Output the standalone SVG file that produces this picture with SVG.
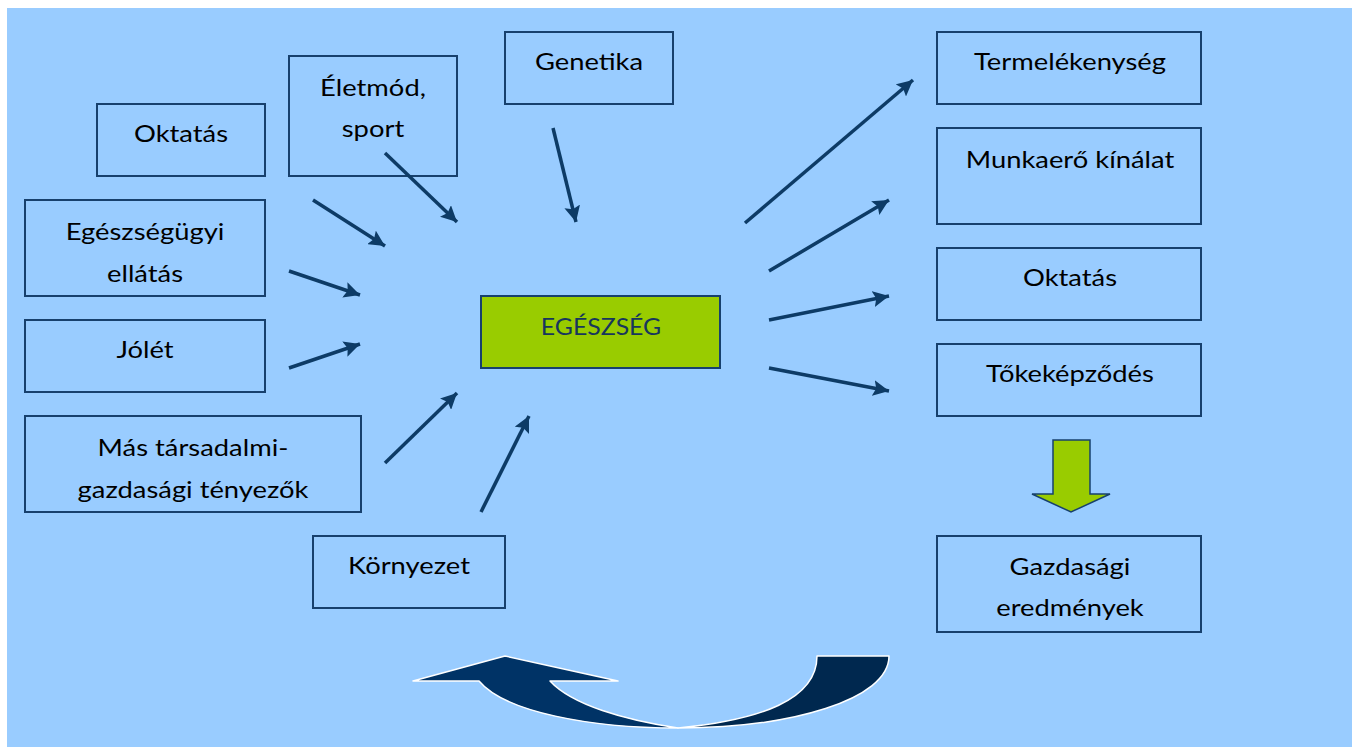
<svg xmlns="http://www.w3.org/2000/svg" width="1357" height="747" viewBox="0 0 1357 747">
<style>
.box{fill:none;stroke:#17406d;stroke-width:2}
.t{font-family:Lato,"Open Sans",sans-serif;font-size:23px;fill:#000;text-anchor:middle}
.c{stroke:#0d3b66;stroke-width:3.5;fill:none;marker-end:url(#ah)}
</style>
<defs>
<marker id="ah" markerUnits="userSpaceOnUse" markerWidth="18" markerHeight="16" refX="16" refY="8" orient="auto">
<path d="M0,0 L16,8 L0,16 L3,8 Z" fill="#0d3b66"/>
</marker>
</defs>
<rect x="0" y="0" width="1357" height="747" fill="#fff"/>
<rect x="7" y="8" width="1345" height="739" fill="#99ccff"/>

<g id="genetika"><rect class="box" x="505" y="32" width="168" height="72"/><text class="t" transform="translate(589,70) scale(1.19,1)">Genetika</text></g>
<g id="eletmod"><rect class="box" x="289" y="56" width="168" height="120"/><text class="t" transform="translate(373,96) scale(1.19,1)">Életmód,</text><text class="t" transform="translate(373,137) scale(1.19,1)">sport</text></g>
<g id="oktatas-l"><rect class="box" x="97" y="104" width="168" height="72"/><text class="t" transform="translate(181,142) scale(1.19,1)">Oktatás</text></g>
<g id="egeszsegugyi"><rect class="box" x="25" y="200" width="240" height="96"/><text class="t" transform="translate(145,240) scale(1.19,1)">Egészségügyi</text><text class="t" transform="translate(145,282) scale(1.19,1)">ellátás</text></g>
<g id="jolet"><rect class="box" x="25" y="320" width="240" height="72"/><text class="t" transform="translate(145,358) scale(1.19,1)">Jólét</text></g>
<g id="egeszseg"><rect x="481" y="296" width="239" height="72" fill="#99cc00" stroke="#17406d" stroke-width="2"/><text class="t" transform="translate(601,335) scale(1.08,1)" style="fill:#17365d;font-size:23px">EGÉSZSÉG</text></g>
<g id="mas"><rect class="box" x="25" y="416" width="336" height="96"/><text class="t" transform="translate(193,456) scale(1.19,1)">Más társadalmi-</text><text class="t" transform="translate(193,498) scale(1.19,1)">gazdasági tényezők</text></g>
<g id="kornyezet"><rect class="box" x="313" y="536" width="192" height="72"/><text class="t" transform="translate(409,574) scale(1.19,1)">Környezet</text></g>
<g id="termelekenyseg"><rect class="box" x="937" y="32" width="264" height="72"/><text class="t" transform="translate(1070,70) scale(1.19,1)">Termelékenység</text></g>
<g id="munkaero"><rect class="box" x="937" y="128" width="264" height="96"/><text class="t" transform="translate(1070,168) scale(1.19,1)">Munkaerő kínálat</text></g>
<g id="oktatas-r"><rect class="box" x="937" y="248" width="264" height="72"/><text class="t" transform="translate(1070,286) scale(1.19,1)">Oktatás</text></g>
<g id="tokekepzodes"><rect class="box" x="937" y="344" width="264" height="72"/><text class="t" transform="translate(1070,382) scale(1.19,1)">Tőkeképződés</text></g>
<g id="gazdasagi"><rect class="box" x="937" y="536" width="264" height="96"/><text class="t" transform="translate(1070,575) scale(1.19,1)">Gazdasági</text><text class="t" transform="translate(1070,616) scale(1.19,1)">eredmények</text></g>

<g id="connectors">
<line class="c" x1="313" y1="200" x2="385" y2="246"/>
<line class="c" x1="385" y1="153" x2="457" y2="222"/>
<line class="c" x1="553" y1="128" x2="576" y2="222"/>
<line class="c" x1="289" y1="271" x2="360" y2="295"/>
<line class="c" x1="289" y1="368" x2="360" y2="344"/>
<line class="c" x1="385" y1="463" x2="457" y2="393"/>
<line class="c" x1="481" y1="512" x2="529" y2="416"/>
<line class="c" x1="745" y1="223" x2="913" y2="80"/>
<line class="c" x1="769" y1="271" x2="889" y2="200"/>
<line class="c" x1="769" y1="320" x2="889" y2="296"/>
<line class="c" x1="769" y1="368" x2="889" y2="391"/>
<path id="down-arrow" d="M1053,440 L1090,440 L1090,494 L1110,494 L1071,512 L1032,494 L1053,494 Z" fill="#99cc00" stroke="#17406d" stroke-width="1.5"/>
<g id="curved-arrow" stroke="#fff" stroke-width="1.5" stroke-linejoin="round">
<path d="M817,656 L889,656 C889,700 790,728 678,728 C760,720 817,700 817,656 Z" fill="#00284f"/>
<path d="M678,728 C590,728 505,712 479,681 L413,681 L505,656 L618,681 L550,681 C572,705 625,720 678,728 Z" fill="#003366"/>
</g>
</g>
</svg>
